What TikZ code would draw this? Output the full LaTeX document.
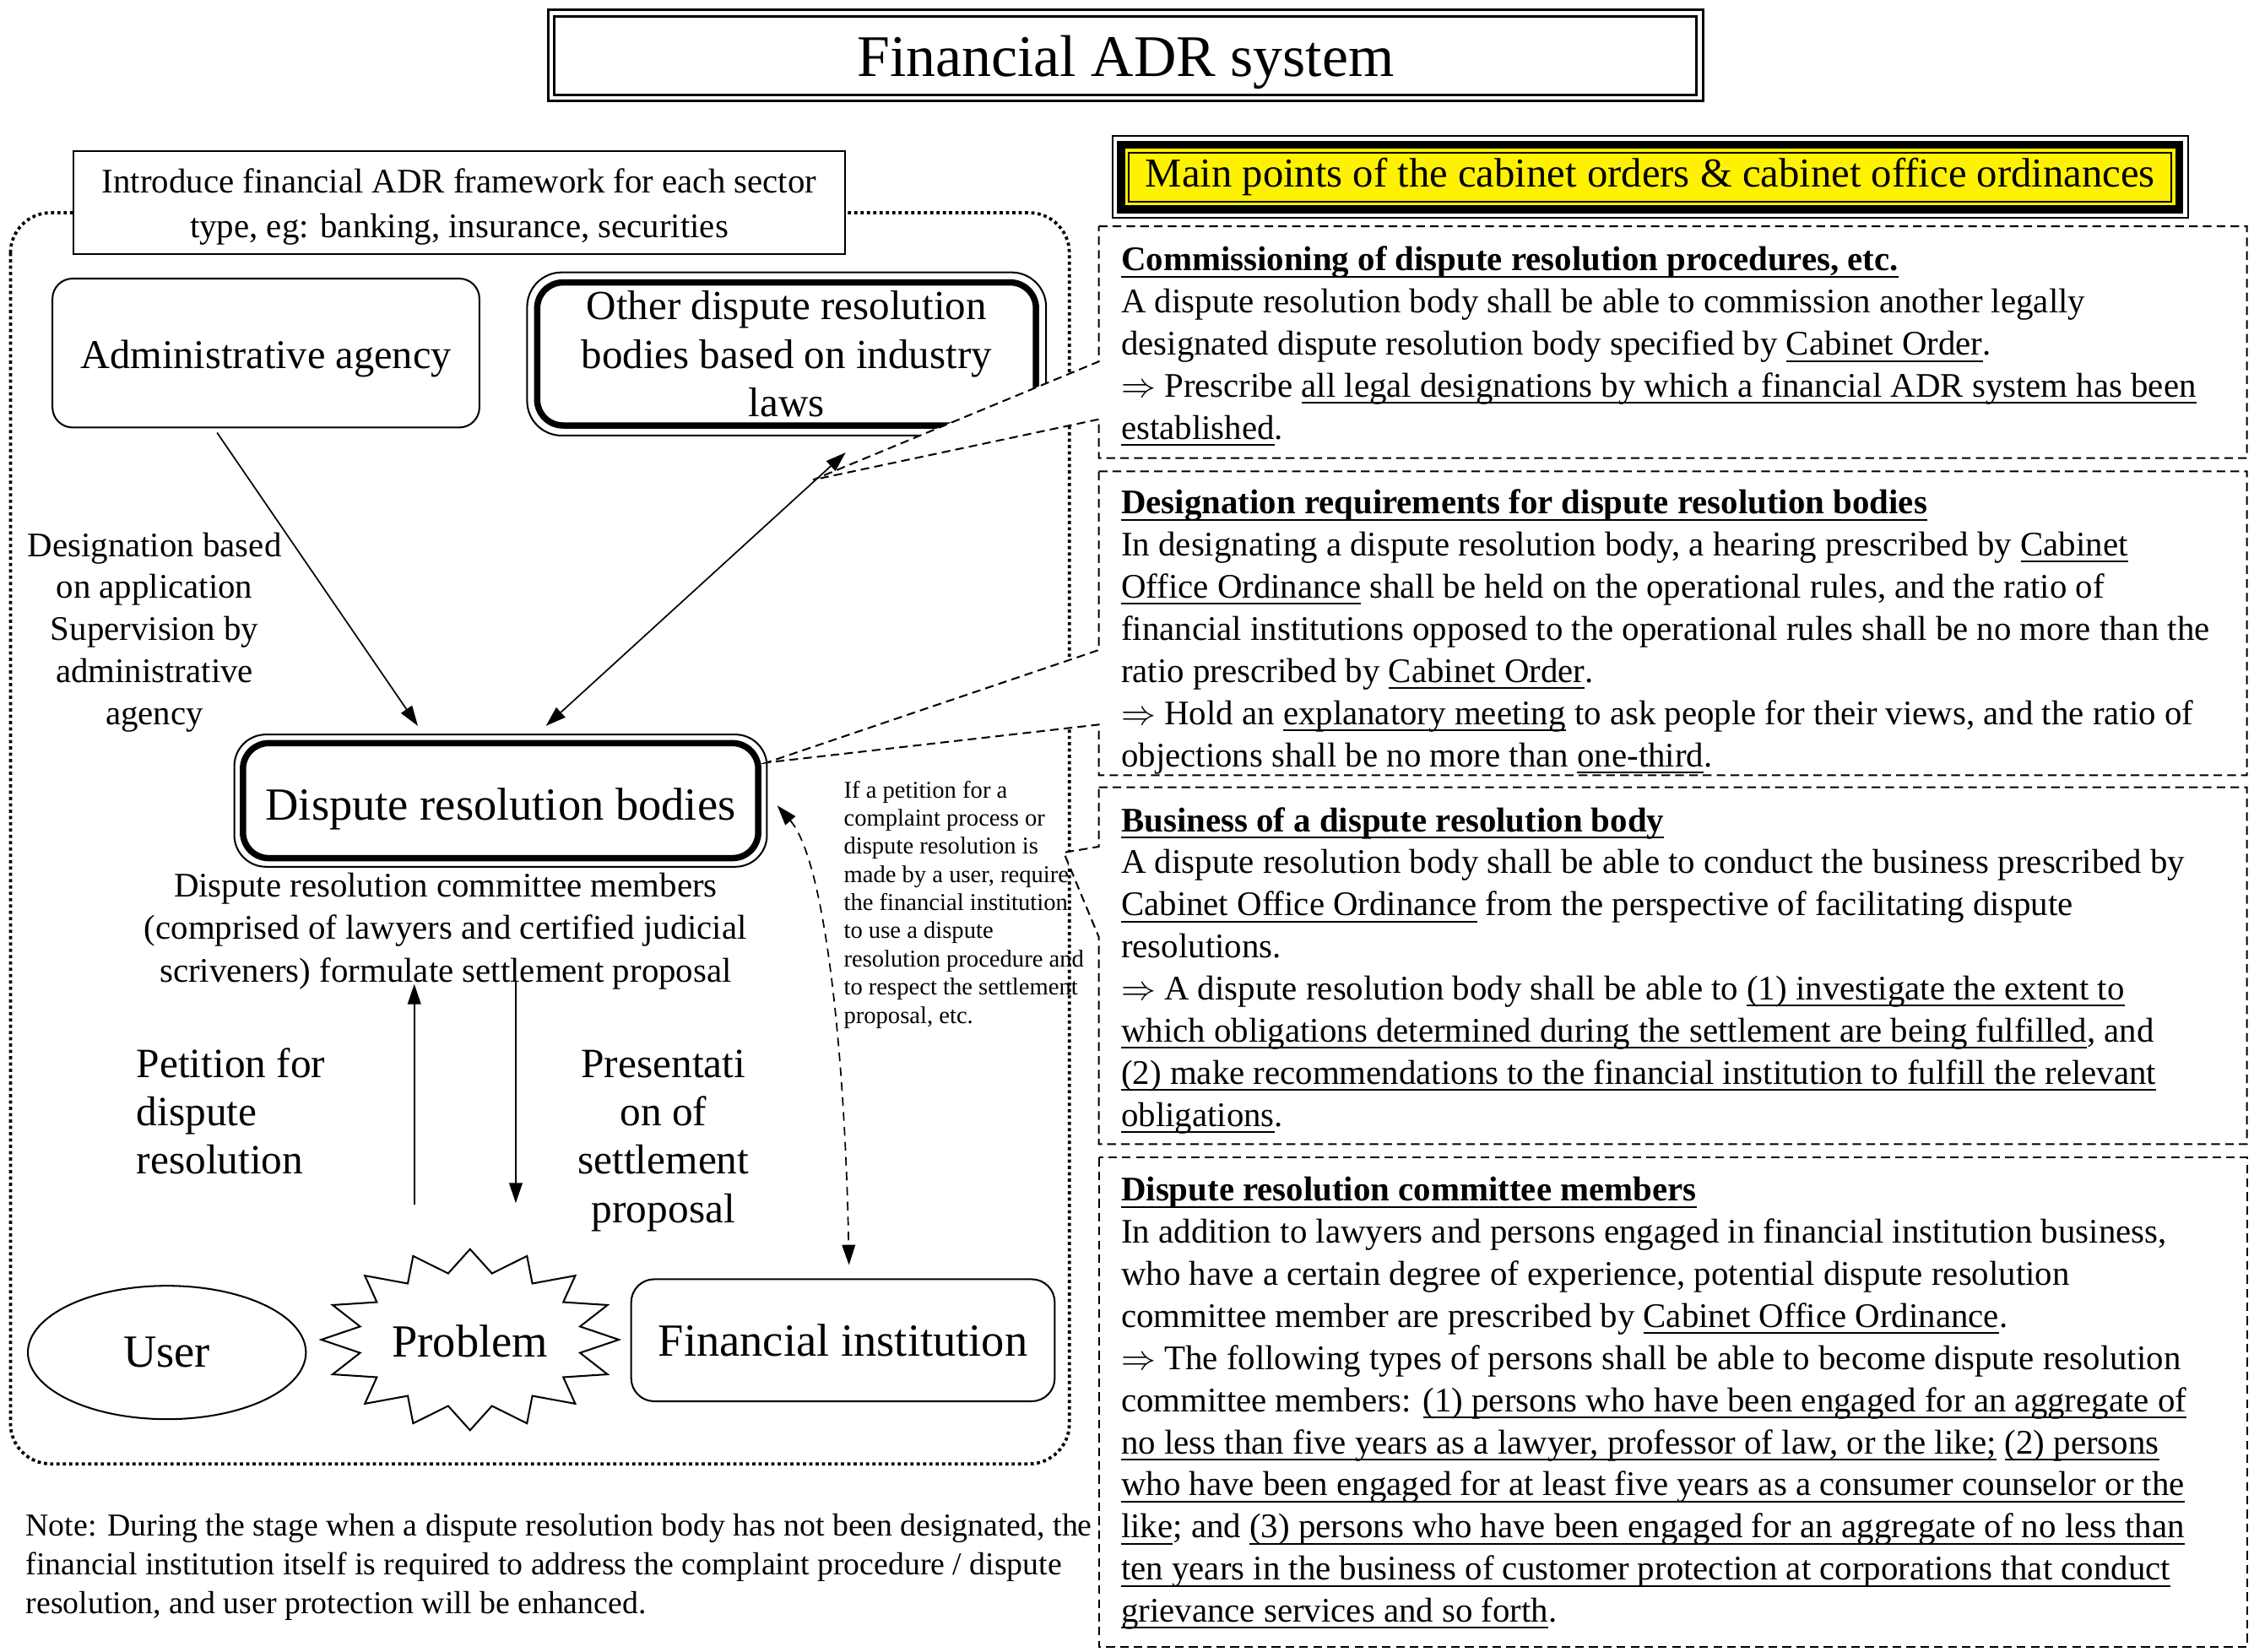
\documentclass[tikz,border=0pt]{standalone}
\usepackage{fontspec}
\setmainfont{Liberation Serif}
\usetikzlibrary{arrows.meta,shapes.geometric}
\newcommand{\fsz}[2]{\fontsize{#1}{#2}\selectfont}
\newcommand{\imp}{\ensuremath{\Rightarrow}}
\newcommand{\uln}[1]{\setbox0\hbox{#1}\rlap{\rule[-2.3pt]{\wd0}{0.6pt}}\box0\relax}
\newcommand{\dn}[2]{\raisebox{-#1}[\height][\depth]{#2}}
\begin{document}
\begin{tikzpicture}[x=0.5pt,y=-0.5pt,
  every node/.style={inner sep=0pt,outer sep=0pt},
  thinbox/.style={draw,line width=0.6pt,fill=white},
  conn/.style={line width=0.5pt,-{Triangle[length=7pt,width=4.6pt]}},
  dconn/.style={line width=0.5pt,{Triangle[length=7pt,width=4.6pt]}-{Triangle[length=7pt,width=4.6pt]}},
  callout/.style={draw,fill=white,line width=0.6pt,dash pattern=on 3pt off 1.8pt},
  dotbox/.style={draw,line width=1.1pt,dash pattern=on 1.1pt off 1.1pt},
  body/.style={anchor=north west,align=left,font=\fsz{12}{14.65}},
]
\useasboundingbox (0,0) rectangle (1568,1149);

% big dotted frame
\draw[dotbox,rounded corners=14pt] (7.3,148) rectangle (743.9,1018.4);

% top-left boxes
\node[thinbox,minimum width=268.5pt,minimum height=36pt] (intro) at (319.5,141) {};
\node[align=center,font=\fsz{12}{15.5}] (introtxt) at (319.5,144)
  {Introduce financial ADR framework for each sector\\type, eg: banking, insurance, securities};
\node[thinbox,rounded corners=7pt,minimum width=148.5pt,minimum height=51.8pt,font=\fsz{14.2}{17}] (admin) at (185,245.6) {\dn{2pt}{Administrative agency}};

\node[draw,line width=2.2pt,rounded corners=9pt,fill=white,minimum width=173.5pt,minimum height=49.75pt,align=center,font=\fsz{14.4}{17}] (other) at (547.2,246.25)
  {Other dispute resolution\\bodies based on industry\\laws};
\draw[line width=0.6pt,rounded corners=12pt] ([shift={(-3.5pt,3.5pt)}]other.north west) rectangle ([shift={(3.5pt,-3.5pt)}]other.south east);

\node[draw,line width=2.2pt,rounded corners=9pt,fill=white,minimum width=179.25pt,minimum height=40pt,font=\fsz{16}{19}] (drb) at (348.25,557) {\dn{3pt}{Dispute resolution bodies}};
\draw[line width=0.6pt,rounded corners=11pt] ([shift={(-3pt,3pt)}]drb.north west) rectangle ([shift={(3pt,-3pt)}]drb.south east);

% labels
\node[anchor=north,align=center,font=\fsz{12}{14.65}] (desig) at (107.5,366.5)
  {\strut Designation based\\on application\\Supervision by\\administrative\\agency};
\node[anchor=north,align=center,font=\fsz{12}{14.8}] (committee) at (310,603.2)
  {\strut Dispute resolution committee members\\(comprised of lawyers and certified judicial\\scriveners) formulate settlement proposal};
\node[anchor=north west,align=left,font=\fsz{14.5}{16.8}] (petition) at (95,726.1)
  {\strut Petition for\\dispute\\resolution};
\node[anchor=north,align=center,font=\fsz{14.5}{16.8}] (present) at (461.5,726.1)
  {\strut Presentati\\on of\\settlement\\proposal};
\node[anchor=north west,align=left,font=\fsz{8.4}{9.8}] (smalltxt) at (587,541.3)
  {\strut If a petition for a\\complaint process or\\dispute resolution is\\made by a user, require\\the financial institution\\to use a dispute\\resolution procedure and\\to respect the settlement\\proposal, etc.};

% bottom row
\draw[line width=0.6pt,fill=white] (327,869)
  \foreach \k in {0,...,15}{ -- ({327+78*cos(101.25+22.5*\k)},{932-47*sin(101.25+22.5*\k)})
     -- ({327+103.5*cos(112.5+22.5*\k)},{932-63*sin(112.5+22.5*\k)}) } -- cycle;
\node[font=\fsz{16}{19}] (problem) at (327,933) {Problem};
\node[draw,ellipse,line width=0.6pt,minimum width=96.7pt,minimum height=46.4pt,font=\fsz{16}{19}] (user) at (116.1,940.9) {User};
\node[thinbox,rounded corners=8pt,minimum width=147.3pt,minimum height=42.45pt,font=\fsz{16}{19}] (fin) at (586.4,932.4) {Financial institution};

% connectors
\coordinate (a1s) at (151,301);
\coordinate (a1e) at (290.7,505);
\draw[conn] (a1s) -- (a1e);
\coordinate (pu1) at (288.2,838);
\coordinate (pu2) at (288.2,684.6);
\draw[conn] (pu1) -- (pu2);
\coordinate (pd1) at (358.8,682.8);
\coordinate (pd2) at (358.8,837);
\draw[conn] (pd1) -- (pd2);
\coordinate (cv1) at (540.7,560.4);
\coordinate (cv2) at (590.6,880);
\draw[dconn,dash pattern=on 3pt off 2.2pt] (cv1) .. controls (575,600) and (588,740) .. (cv2);

% note
\node[anchor=north west,align=left,font=\fsz{11.1}{13.5}] (note) at (18,1049.5)
  {\strut Note: During the stage when a dispute resolution body has not been designated, the\\financial institution itself is required to address the complaint procedure / dispute\\resolution, and user protection will be enhanced.};

% title
\node[draw,line width=0.9pt,double,double distance=1.3pt,minimum width=399.5pt,minimum height=29.4pt,font=\fsz{20.5}{24}] (title) at (783,38.6) {\dn{2.5pt}{Financial ADR system}};

% yellow heading
\node[draw,line width=2.8pt,fill=yellow,minimum width=368.1pt,minimum height=22.55pt,font=\fsz{14.3}{17}] (mainpts) at (1147.9,123.25)
  {Main points of the cabinet orders \& cabinet office ordinances};
\draw[line width=0.6pt] ([shift={(-3pt,3pt)}]mainpts.north west) rectangle ([shift={(3pt,-3pt)}]mainpts.south east);
\draw[line width=0.6pt] ([shift={(2.8pt,-2.8pt)}]mainpts.north west) rectangle ([shift={(-2.8pt,2.8pt)}]mainpts.south east);

% callouts
\draw[callout] (764.4,157.4) -- (1563,157.4) -- (1563,318.7) -- (764.4,318.7) -- (764.4,291.7) -- (565.7,333.8) -- (764.4,251.5) -- cycle;
\draw[callout] (764.4,327.9) -- (1563,327.9) -- (1563,539.3) -- (764.4,539.3) -- (764.4,504.1) -- (533.4,530.5) -- (764.4,452.2) -- cycle;
\draw[callout] (764.4,547.7) -- (1563,547.7) -- (1563,796) -- (764.4,796) -- (764.4,651.9) -- (740,593.1) -- (764.4,589) -- cycle;
\draw[callout] (764.4,805.4) rectangle (1563,1145.9);

\node[body] (c1text) at (780,168)
  {\strut\textbf{\uln{Commissioning of dispute resolution procedures, etc.}}\\
   A dispute resolution body shall be able to commission another legally\\
   designated dispute resolution body specified by \uln{Cabinet Order}.\\
   \imp\ Prescribe \uln{all legal designations by which a financial ADR system has been}\\
   \uln{established}.};
\node[body] (c2text) at (780,337)
  {\strut\textbf{\uln{Designation requirements for dispute resolution bodies}}\\
   In designating a dispute resolution body, a hearing prescribed by \uln{Cabinet}\\
   \uln{Office Ordinance} shall be held on the operational rules, and the ratio of\\
   financial institutions opposed to the operational rules shall be no more than the\\
   ratio prescribed by \uln{Cabinet Order}.\\
   \imp\ Hold an \uln{explanatory meeting} to ask people for their views, and the ratio of\\
   objections shall be no more than \uln{one-third}.};
\node[body] (c3text) at (780,558)
  {\strut\textbf{\uln{Business of a dispute resolution body}}\\
   A dispute resolution body shall be able to conduct the business prescribed by\\
   \uln{Cabinet Office Ordinance} from the perspective of facilitating dispute\\
   resolutions.\\
   \imp\ A dispute resolution body shall be able to \uln{(1) investigate the extent to}\\
   \uln{which obligations determined during the settlement are being fulfilled}, and\\
   \uln{(2) make recommendations to the financial institution to fulfill the relevant}\\
   \uln{obligations}.};
\node[body] (c4text) at (780,815)
  {\strut\textbf{\uln{Dispute resolution committee members}}\\
   In addition to lawyers and persons engaged in financial institution business,\\
   who have a certain degree of experience, potential dispute resolution\\
   committee member are prescribed by \uln{Cabinet Office Ordinance}.\\
   \imp\ The following types of persons shall be able to become dispute resolution\\
   committee members: \uln{(1) persons who have been engaged for an aggregate of}\\
   \uln{no less than five years as a lawyer, professor of law, or the like;} \uln{(2) persons}\\
   \uln{who have been engaged for at least five years as a consumer counselor or the}\\
   \uln{like}; and \uln{(3) persons who have been engaged for an aggregate of no less than}\\
   \uln{ten years in the business of customer protection at corporations that conduct}\\
   \uln{grievance services and so forth}.};

% double arrow on top
\coordinate (a2s) at (379.8,505);
\coordinate (a2e) at (588.3,314.8);
\draw[dconn] (a2s) -- (a2e);
\end{tikzpicture}
\end{document}
